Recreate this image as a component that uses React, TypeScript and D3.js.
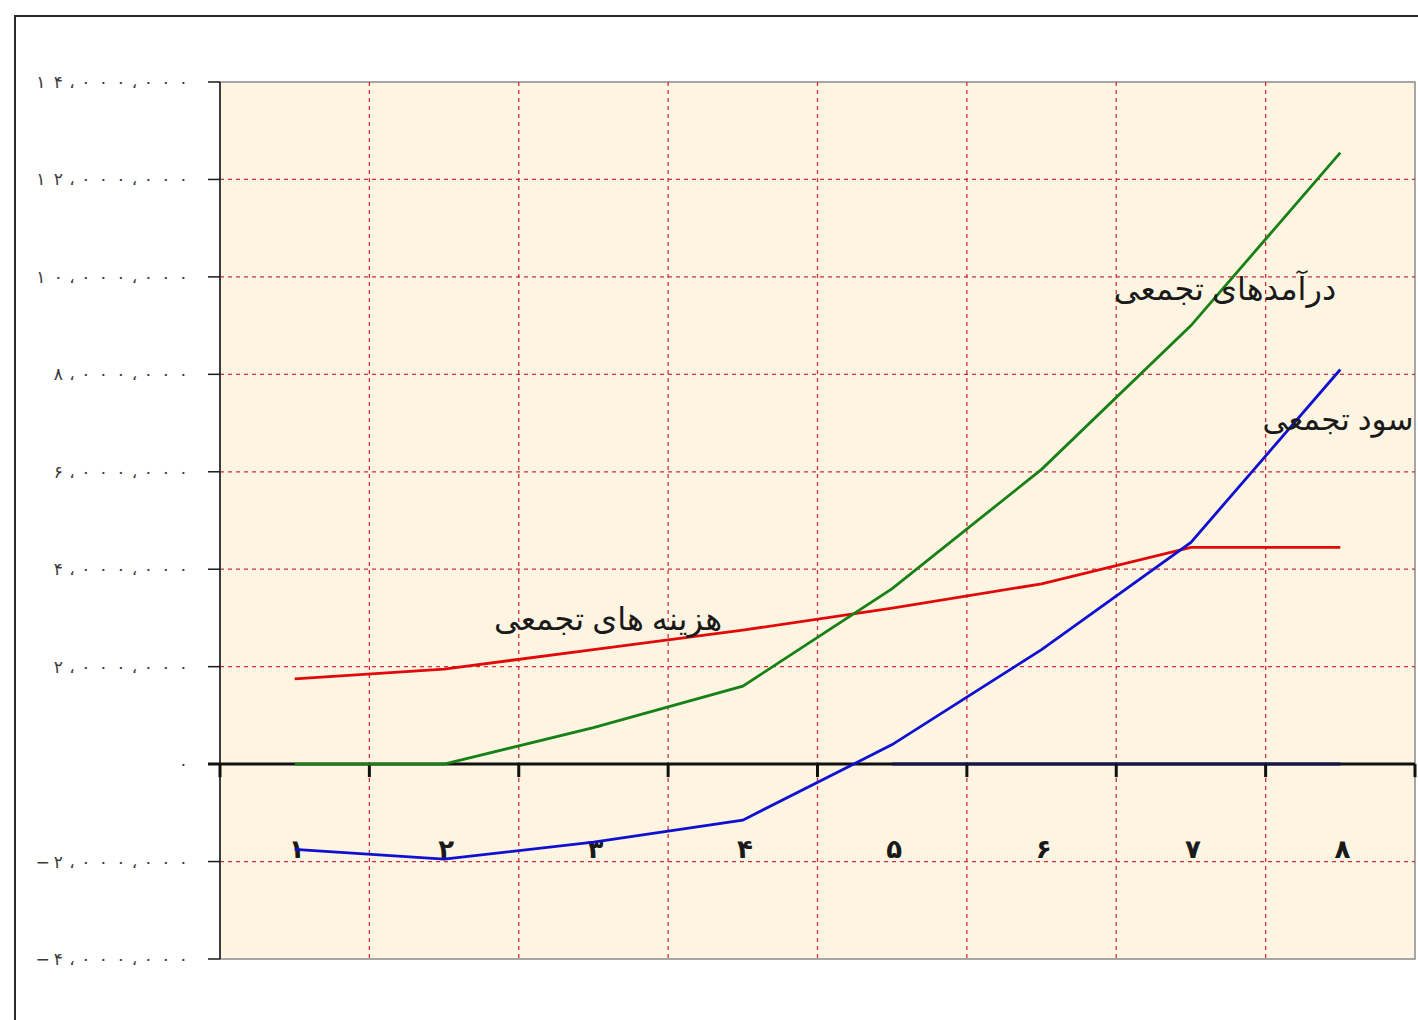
import React from "react";
import * as d3 from "d3";

const categories = ["۱", "۲", "۳", "۴", "۵", "۶", "۷", "۸"];
const revenue = [0, 0, 750000, 1600000, 3600000, 6050000, 9000000, 12550000];
const costs = [1750000, 1950000, 2350000, 2750000, 3200000, 3700000, 4450000, 4450000];
const profit = [-1750000, -1950000, -1600000, -1150000, 400000, 2350000, 4550000, 8100000];
const yTicks = [-4000000, -2000000, 0, 2000000, 4000000, 6000000, 8000000, 10000000, 12000000, 14000000];
const yTickLabels = [
  "−۴،۰۰۰،۰۰۰", "−۲،۰۰۰،۰۰۰", "۰", "۲،۰۰۰،۰۰۰", "۴،۰۰۰،۰۰۰",
  "۶،۰۰۰،۰۰۰", "۸،۰۰۰،۰۰۰", "۱۰،۰۰۰،۰۰۰", "۱۲،۰۰۰،۰۰۰", "۱۴،۰۰۰،۰۰۰",
];
const seriesLabels = ["درآمدهای تجمعی", "هزینه های تجمعی", "سود تجمعی"];

function spacedChars(label: string, rightEdge: number) {
  const chars = Array.from(label);
  const out: { ch: string; x: number }[] = [];
  let r = rightEdge;
  for (let i = chars.length - 1; i >= 0; i--) {
    const ch = chars[i];
    const w = ch === "،" ? 10 : ch === "−" ? 14 : 17.5;
    out.push({ ch, x: r - w / 2 });
    r -= w;
  }
  return out;
}

export default function App() {
  const W = 1418, H = 1020;
  const left = 220, right = 1415, top = 82, bottom = 959;
  const x = d3.scaleBand<string>().domain(categories).range([left, right]).padding(0);
  const y = d3.scaleLinear().domain([-4000000, 14000000]).range([bottom, top]);
  const cx = (i: number) => (x(categories[i]) as number) + x.bandwidth() / 2;
  const line = d3.line<number>().x((_, i) => cx(i)).y((d) => y(d));
  const boundaries = categories.map((c) => x(c) as number).concat([right]);
  const y0 = y(0);
  const labelFont = "'Times New Roman', 'DejaVu Serif', 'DejaVu Sans', serif";

  return (
    <svg width={W} height={H} style={{ position: "absolute", left: 0, top: 0, background: "#fff" }}>
      <rect x={0} y={0} width={W} height={H} fill="#fff" />
      <rect x={15} y={16} width={W + 20} height={H + 20} fill="#fff" stroke="#2a2a2a" strokeWidth={2} />
      {/* plot area */}
      <rect x={left} y={top} width={right - left} height={bottom - top} fill="#fdf5e1" stroke="#8a8a8a" strokeWidth={1.5} />
      {/* grid */}
      {yTicks.filter((t) => t !== 0 && t !== 14000000 && t !== -4000000).map((t) => (
        <line key={"h" + t} x1={left} x2={right} y1={y(t)} y2={y(t)} stroke="#cc3040" strokeWidth={1.3} strokeDasharray="4,4" />
      ))}
      {boundaries.slice(1, -1).map((b, i) => (
        <line key={"v" + i} x1={b} x2={b} y1={top} y2={bottom} stroke="#cc3040" strokeWidth={1.3} strokeDasharray="4,4" />
      ))}
      {/* y axis */}
      <line x1={left} x2={left} y1={top} y2={bottom} stroke="#1a1a1a" strokeWidth={1.5} />
      {yTicks.map((t, i) => (
        <g key={"yt" + t}>
          <line x1={left - 12} x2={left} y1={y(t)} y2={y(t)} stroke="#1a1a1a" strokeWidth={1.5} />
          <text y={y(t) + 6} textAnchor="middle" fontSize={17} fill="#3a3a3a" fontFamily="DejaVu Sans, sans-serif">
            {spacedChars(yTickLabels[i], 192).map((c, j) => (
              <tspan key={j} x={c.x}>{c.ch}</tspan>
            ))}
          </text>
        </g>
      ))}
      {/* x axis */}
      <line x1={left - 12} x2={right} y1={y0} y2={y0} stroke="#111" strokeWidth={3} />
      <line x1={cx(4)} x2={cx(7)} y1={y0} y2={y0} stroke="#141450" strokeWidth={3} />
      {boundaries.map((b, i) => (
        <line key={"xt" + i} x1={b} x2={b} y1={y0} y2={y0 + 13} stroke="#111" strokeWidth={3} />
      ))}
      {categories.map((c, i) => (
        <text key={"xl" + c} x={cx(i) + 2} y={858} textAnchor="middle" fontSize={26} fontWeight="bold" fill="#1a1a1a" fontFamily="DejaVu Sans, sans-serif">
          {c}
        </text>
      ))}
      {/* series */}
      <path d={line(costs) || ""} fill="none" stroke="#e00a0a" strokeWidth={2.8} />
      <path d={line(profit) || ""} fill="none" stroke="#1010d0" strokeWidth={2.8} />
      <path d={line(revenue) || ""} fill="none" stroke="#178017" strokeWidth={2.8} />
      {/* labels */}
      <text x={1225} y={300} textAnchor="middle" fontSize={32} fill="#1a1a1a" fontFamily={labelFont} direction="rtl">
        {seriesLabels[0]}
      </text>
      <text x={608} y={630} textAnchor="middle" fontSize={32} fill="#1a1a1a" fontFamily={labelFont} direction="rtl">
        {seriesLabels[1]}
      </text>
      <text x={1338} y={430} textAnchor="middle" fontSize={31} fill="#1a1a1a" fontFamily={labelFont} direction="rtl">
        {seriesLabels[2]}
      </text>
    </svg>
  );
}
